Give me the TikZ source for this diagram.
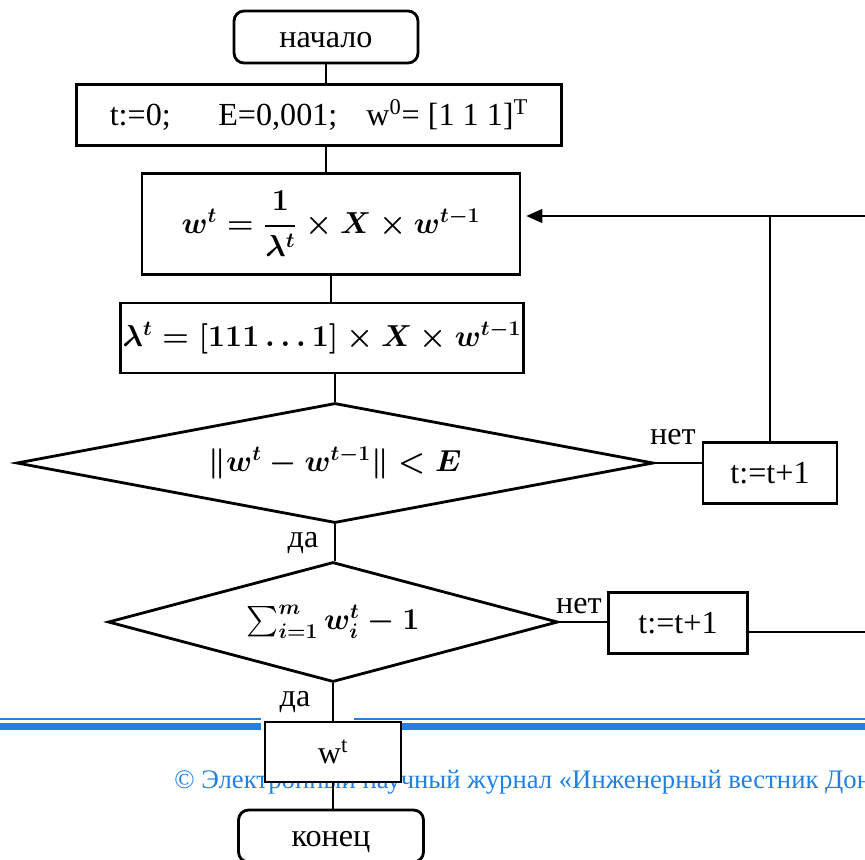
\documentclass[tikz,border=0pt]{standalone}
\usepackage{amsmath}
\usepackage{fontspec}
\setmainfont{Liberation Serif}
\usetikzlibrary{arrows.meta, shapes.geometric, calc}
\definecolor{footblue}{RGB}{32,128,228}

\begin{document}
\begin{tikzpicture}[
  x=0.02cm,
  y=-0.02cm,
  every node/.style={font=\fontsize{18.3}{21}\selectfont},
  terminal/.style={draw, line width=1.6pt, rounded corners=0.2cm, inner sep=0pt, text height=12.5pt, text depth=0pt},
  action/.style={draw, line width=1.6pt, inner sep=0pt},
  cond/.style={draw, diamond, aspect=5.3, line width=1.6pt, inner sep=0pt},
  formula/.style={font=\fontsize{17}{20}\selectfont\boldmath},
  link/.style={line width=0.7pt},
  back/.style={line width=0.7pt, shorten >=0.1cm, -{Triangle[length=0.32cm, width=0.28cm]}},
  footline/.style={footblue}
  ]
    % Frame
    \useasboundingbox (0,0) rectangle (865,859);
    \clip (0,0) rectangle (865,859);

    % footer of the page
    \fill[footline] (0,717.5) rectangle (261,720);
    \fill[footline] (354,717.5) rectangle (865,720);
    \fill[footline] (0,723) rectangle (261,729.5);
    \fill[footline] (354,723) rectangle (865,729.5);
    \node[anchor=base west, inner sep=0pt, text=footblue, font=\fontsize{15.2}{18}\selectfont] (foot) at (174,788)
      {© Электронный научный журнал «Инженерный вестник Дон};

    % blocks
    \node[terminal, minimum width=3.68cm, minimum height=1.04cm] (start) at (326,37) {начало};
    \node[action, minimum width=9.7cm, minimum height=1.22cm] (init) at (319,115)
      {t:=0;\hspace{0.95cm}E=0,001;\hspace{0.58cm}w\textsuperscript{0}= [1 1 1]\textsuperscript{T}};
    \node[action, formula, minimum width=7.56cm, minimum height=2.02cm] (upd) at (331,224)
      {$w^t=\dfrac{1}{\lambda^t}\times X\times w^{t-1}$};
    \node[action, formula, minimum width=8.06cm, minimum height=1.4cm] (lam) at (322,338)
      {$\lambda^t=[111\ldots1]\times X\times w^{t-1}$};
    \node[cond, formula, minimum width=12.74cm, minimum height=2.4cm] (dia1) at (335,463)
      {$\|w^t-w^{t-1}\|<E$};
    \node[action, minimum width=2.68cm, minimum height=1.22cm] (inc1) at (770,473) {t:=t+1};
    \node[cond, formula, minimum width=9cm, minimum height=2.4cm] (dia2) at (333,622)
      {$\textstyle\sum_{i=1}^{m}w_i^t-1$};
    \node[action, minimum width=2.78cm, minimum height=1.22cm] (inc2) at (678,623) {t:=t+1};
    \node[action, fill=white, minimum width=2.72cm, minimum height=1.2cm] (out) at (333,752)
      {w\textsuperscript{t}};
    \node[terminal, minimum width=3.7cm, minimum height=1.04cm] (end) at (331,836) {конец};

    % labels
    \node (no1) at (673,437) {нет};
    \node (no2) at (579,606) {нет};
    \node (yes1) at (303,543) {да};
    \node (yes2) at (295,702) {да};

    % loose ends at the right edge
    \coordinate (rt1) at (865,216);
    \coordinate (rt2) at (865,632);

    % connectors
    \draw[link] (start.south) -- (start.south |- init.north);
    \draw[link] (init.south -| start.south) -- (upd.north -| start.south);
    \draw[link] (upd.south) -- (upd.south |- lam.north);
    \draw[link] (lam.south -| dia1.north) -- (dia1.north);
    \draw[link] (dia1.south) -- (dia1.south |- dia2.north);
    \draw[link] (dia2.south) -- (dia2.south |- out.north);
    \draw[link] (out.south) -- (out.south |- end.north);
    \draw[link] (dia1.east) -- (dia1.east -| inc1.west);
    \draw[link] (dia2.east) -- (dia2.east -| inc2.west);
    \draw[link] (inc1.north) -- (inc1.north |- rt1);
    \draw[back] (rt1) -- (rt1 -| upd.east);
    \draw[link] (inc2.east |- rt2) -- (rt2);

\end{tikzpicture}
\end{document}
